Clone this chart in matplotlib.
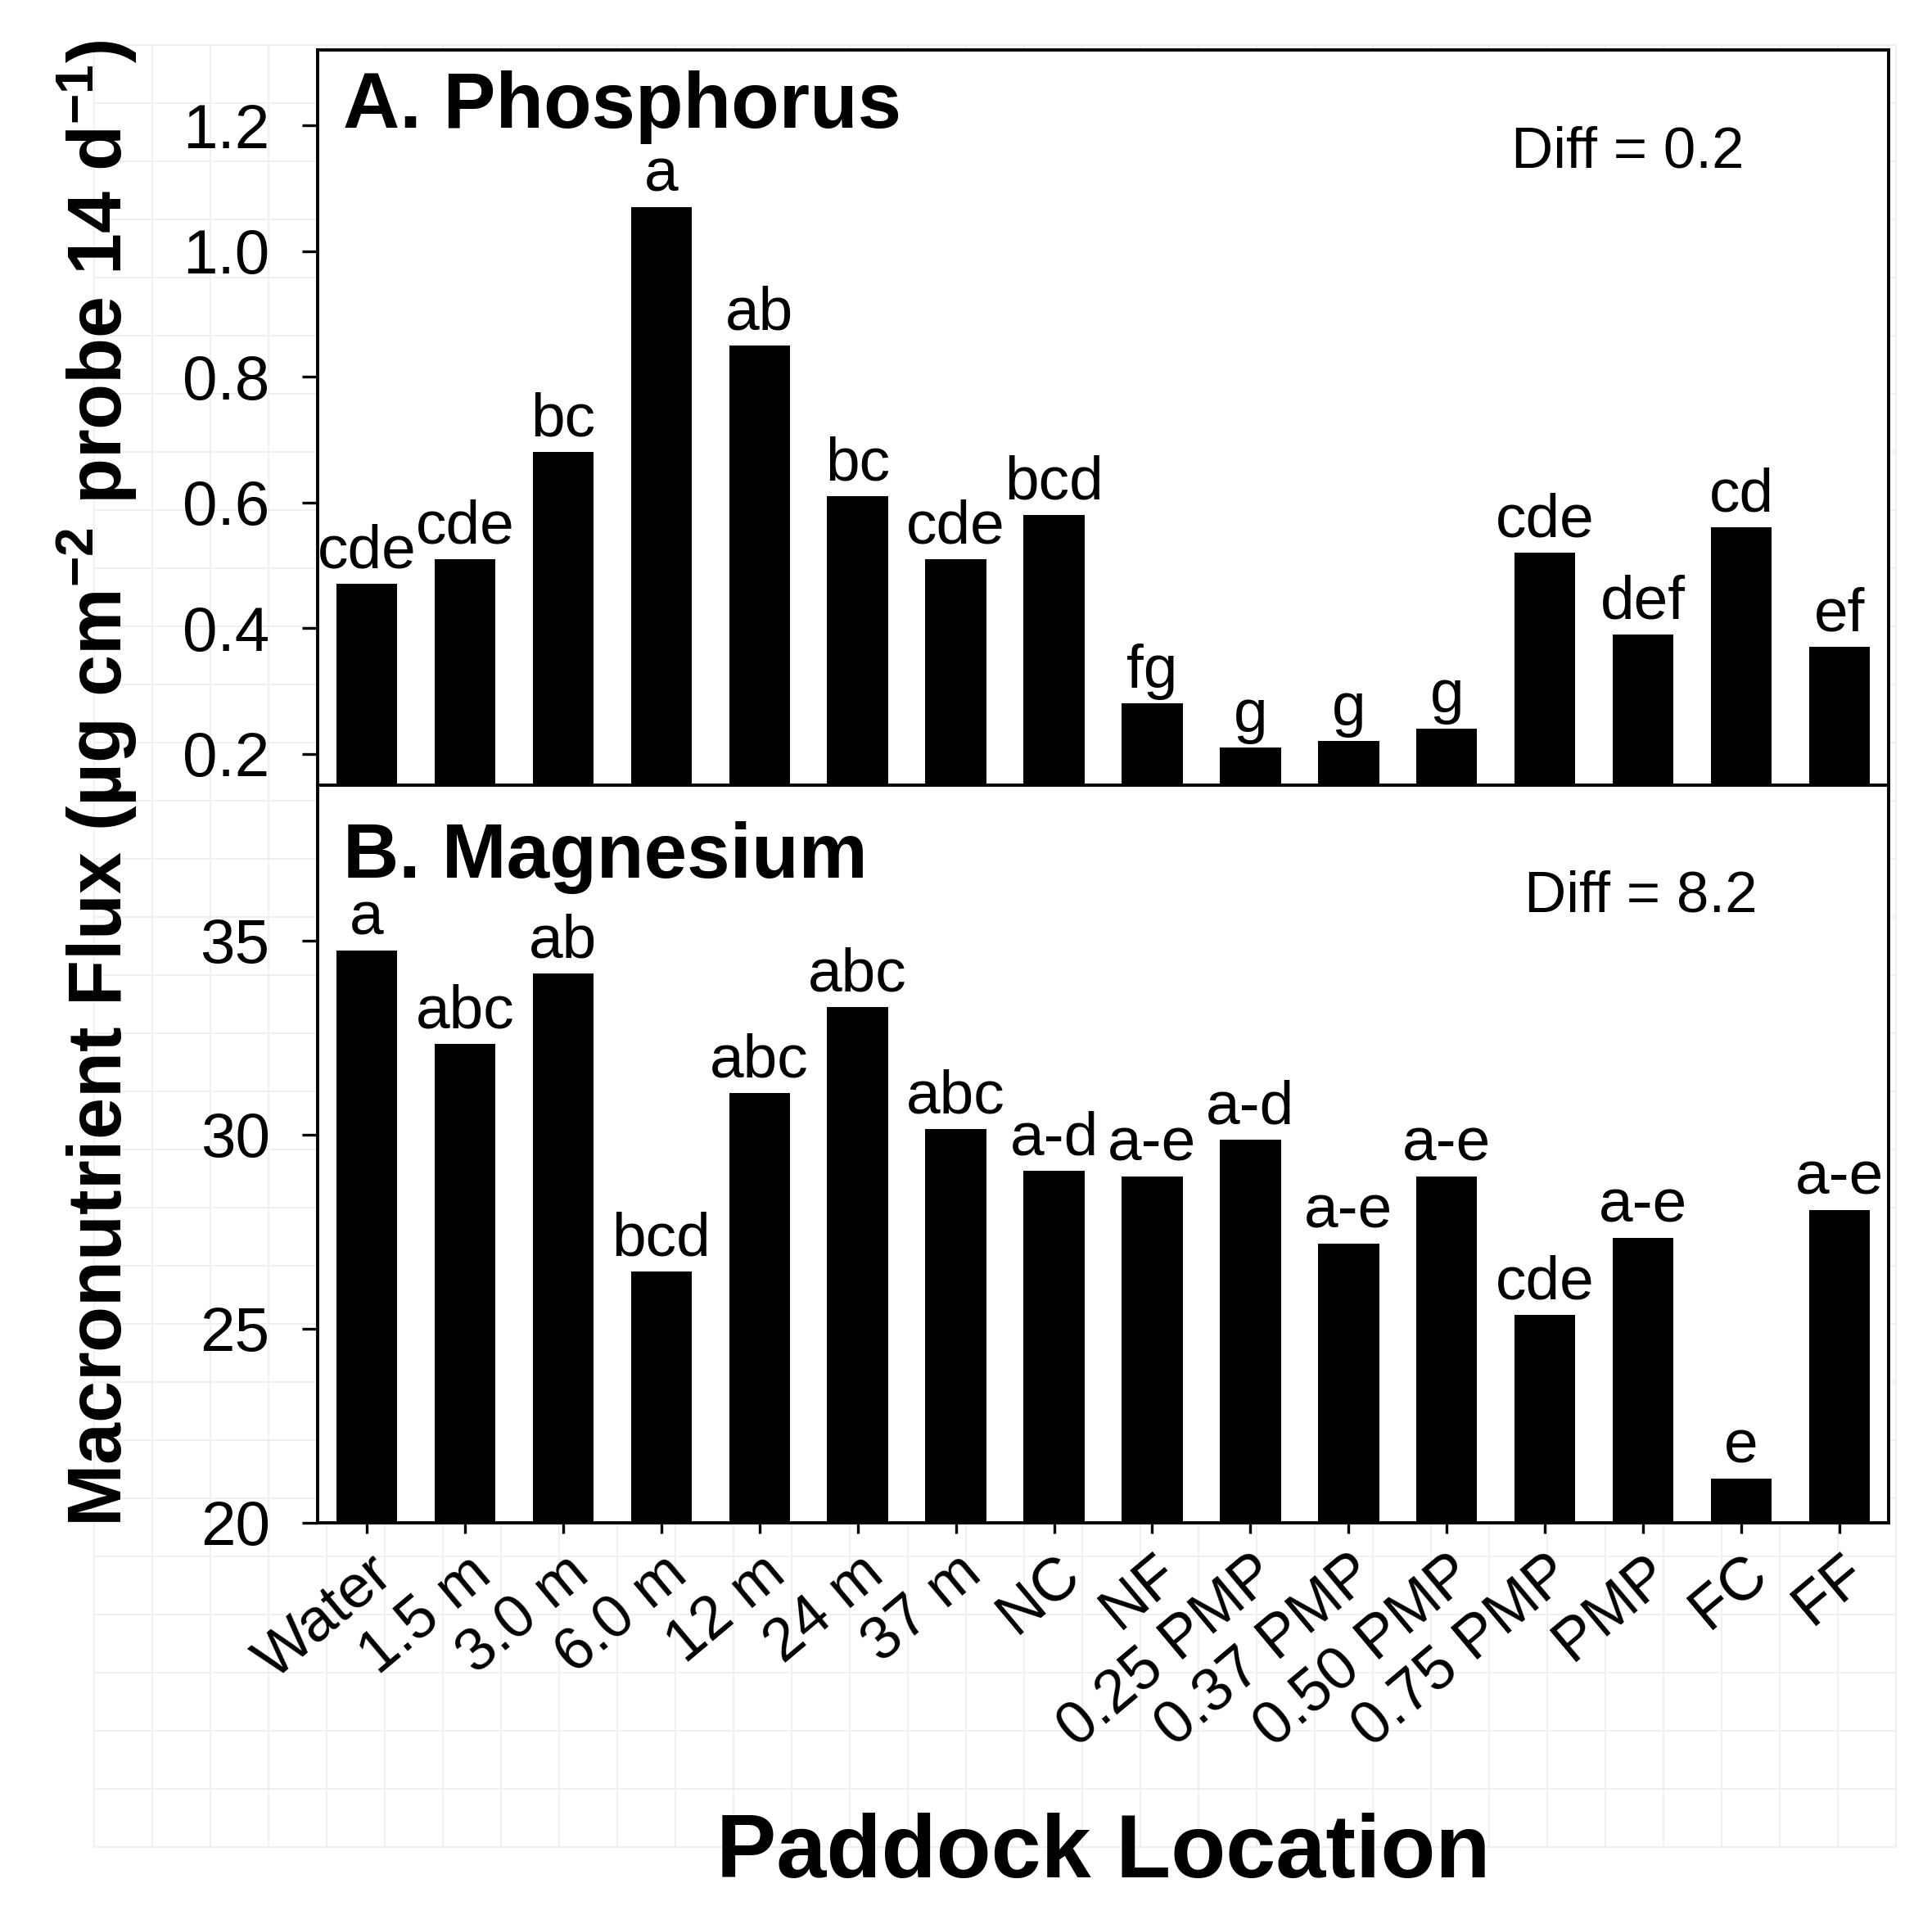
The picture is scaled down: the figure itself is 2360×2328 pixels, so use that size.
import numpy as np
import matplotlib
matplotlib.use("Agg")
import matplotlib.pyplot as plt
from matplotlib.lines import Line2D

plt.rcParams['font.family'] = ['Liberation Sans', 'DejaVu Sans']
plt.rcParams['mathtext.fontset'] = 'custom'
plt.rcParams['mathtext.rm'] = 'Liberation Sans:bold'
plt.rcParams['mathtext.bf'] = 'Liberation Sans:bold'
plt.rcParams['mathtext.default'] = 'bf'

locations = ["Water", "1.5 m", "3.0 m", "6.0 m", "12 m", "24 m", "37 m", "NC", "NF",
             "0.25 PMP", "0.37 PMP", "0.50 PMP", "0.75 PMP", "PMP", "FC", "FF"]

phosphorus = [0.47, 0.51, 0.68, 1.07, 0.85, 0.61, 0.51, 0.58, 0.28,
              0.21, 0.22, 0.24, 0.52, 0.39, 0.56, 0.37]
p_letters = ["cde", "cde", "bc", "a", "ab", "bc", "cde", "bcd", "fg",
             "g", "g", "g", "cde", "def", "cd", "ef"]

magnesium = [34.75, 32.33, 34.15, 26.48, 31.08, 33.28, 30.15, 29.06, 28.93,
             29.86, 27.19, 28.93, 25.36, 27.34, 21.14, 28.06]
mg_letters = ["a", "abc", "ab", "bcd", "abc", "abc", "abc", "a-d", "a-e",
              "a-d", "a-e", "a-e", "cde", "a-e", "e", "a-e"]

W, H = 2360, 2328
fig = plt.figure(figsize=(W / 200, H / 200), dpi=200)

# faint page grid behind the plot
for i in range(32):
    gx = (115 + i * 71) / W
    fig.add_artist(Line2D([gx, gx], [1 - 55 / H, 1 - 2256 / H], color='#f0f0f0', lw=0.7, zorder=-10))
    gy = 1 - (55 + i * 71) / H
    fig.add_artist(Line2D([115 / W, 2316 / W], [gy, gy], color='#f0f0f0', lw=0.7, zorder=-10))

left, right = 388 / W, 2307 / W
top, mid, bot = 1 - 61 / H, 1 - 959 / H, 1 - 1860 / H
axA = fig.add_axes([left, mid, right - left, top - mid])
axB = fig.add_axes([left, bot, right - left, mid - bot])

x = np.arange(len(locations))

for ax, vals, letters in [(axA, phosphorus, p_letters), (axB, magnesium, mg_letters)]:
    ax.bar(x, vals, width=0.62, color='black')
    for xi, v, lab in zip(x, vals, letters):
        ax.annotate(lab, (xi, v), xytext=(0, 7), textcoords='offset points',
                    ha='center', va='baseline', fontsize=27)
    ax.set_xlim(-0.5, 15.5)
    ax.set_xticks(x)
    for s in ax.spines.values():
        s.set_linewidth(1.4)
    ax.tick_params(axis='y', length=7, width=1.2, labelsize=27.5, pad=14)
    ax.tick_params(axis='x', length=4.5, width=1.2)

axA.set_ylim(0.15, 1.32)
axA.set_yticks([0.2, 0.4, 0.6, 0.8, 1.0, 1.2])
axA.set_yticklabels(["0.2", "0.4", "0.6", "0.8", "1.0", "1.2"])
axA.set_xticklabels([])

axB.set_ylim(20, 39)
axB.set_yticks([20, 25, 30, 35])
axB.set_xticklabels(locations, rotation=40, ha='right', va='top',
                    rotation_mode='anchor', fontsize=26.5)
axB.tick_params(axis='x', pad=5)

axA.text(0.016, 0.894, "A. Phosphorus", transform=axA.transAxes,
         fontsize=34.5, fontweight='bold', va='baseline')
axA.text(0.76, 0.84, "Diff = 0.2", transform=axA.transAxes, fontsize=25.5, va='baseline')
axB.text(0.016, 0.875, "B. Magnesium", transform=axB.transAxes,
         fontsize=34, fontweight='bold', va='baseline')
axB.text(0.768, 0.828, "Diff = 8.2", transform=axB.transAxes, fontsize=25.5, va='baseline')

fig.text(170 / W, 1 - 957 / H, "Macronutrient Flux (\u00b5g cm$^{-2}$ probe 14 d$^{-1}$)",
         rotation=90, ha='right', va='center', fontsize=33, fontweight='bold')
fig.text(0.5 * (left + right), 1 - 2293 / H, "Paddock Location",
         ha='center', va='baseline', fontsize=39.5, fontweight='bold')

fig.savefig("out.png", dpi=200)
